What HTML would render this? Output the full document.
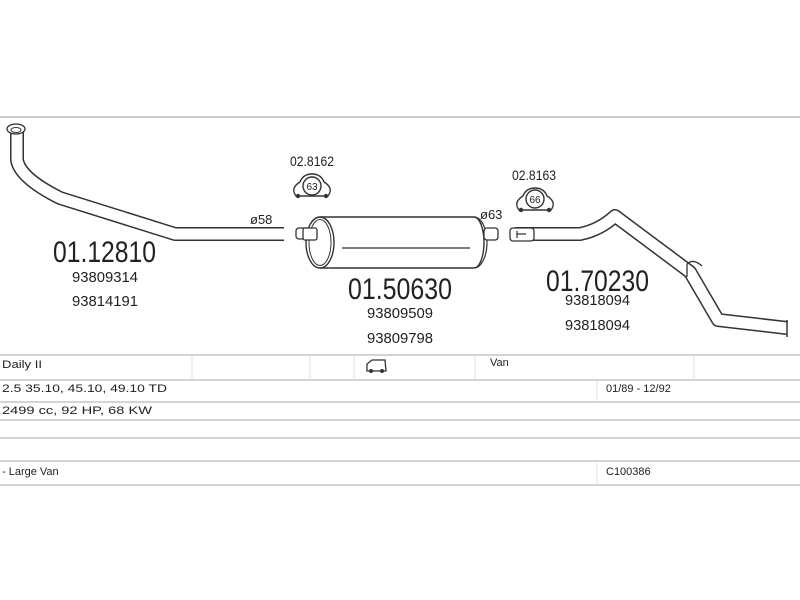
<!DOCTYPE html>
<html><head><style>
body{margin:0;background:#fff;}
svg{display:block}
text{font-family:"Liberation Sans",sans-serif;fill:#222}
</style></head><body>
<svg width="800" height="600" viewBox="0 0 800 600">
<line x1="0" y1="117" x2="800" y2="117" stroke="#ccc" stroke-width="2"/>
<!-- front pipe -->
<path d="M17,128 L17,160 Q20,178 60,198 L175,234 L284,234" fill="none" stroke="#333" stroke-width="14" stroke-linejoin="round"/>
<path d="M17,128 L17,160 Q20,178 60,198 L175,234 L284,234" fill="none" stroke="#fff" stroke-width="11" stroke-linejoin="round"/>
<ellipse cx="16" cy="129" rx="9" ry="5" fill="#fff" stroke="#333" stroke-width="1.3"/>
<ellipse cx="16" cy="130" rx="5" ry="2.5" fill="none" stroke="#333" stroke-width="1"/>
<!-- muffler -->
<rect x="296" y="228" width="16" height="11" rx="3" fill="#fff" stroke="#333" stroke-width="1.3"/>
<path d="M320,217 L474,217 A10,25.5 0 0 1 474,268 L320,268" fill="#fff" stroke="#333" stroke-width="1.4"/>
<path d="M474,217 A13,25.5 0 0 1 474,268" fill="none" stroke="#333" stroke-width="1.2"/>
<ellipse cx="320" cy="242.5" rx="14" ry="25.5" fill="#fff" stroke="#333" stroke-width="1.4"/>
<ellipse cx="320" cy="242.5" rx="11" ry="23" fill="none" stroke="#333" stroke-width="1"/>
<line x1="342" y1="248" x2="470" y2="248" stroke="#333" stroke-width="1.3"/>
<rect x="303" y="228" width="14" height="12" rx="2" fill="#fff" stroke="#333" stroke-width="1.3"/>
<rect x="484" y="228" width="14" height="12" rx="3" fill="#fff" stroke="#333" stroke-width="1.3"/>
<!-- rear pipe -->
<path d="M515,234 L580,234 Q600,230 615,216 L690,272 L718,320 L787,328" fill="none" stroke="#333" stroke-width="14" stroke-linejoin="round"/>
<path d="M515,234 L580,234 Q600,230 615,216 L690,272 L718,320 L787,328" fill="none" stroke="#fff" stroke-width="11" stroke-linejoin="round"/>
<rect x="510" y="228" width="24" height="13" rx="3" fill="#fff" stroke="#333" stroke-width="1.3"/>
<path d="M517,231 L517,238 M517,234 L526,234" stroke="#333" stroke-width="1.2"/>
<line x1="787" y1="320" x2="787" y2="337" stroke="#333" stroke-width="1.5"/>
<path d="M687,264 Q693,258 702,266 M687,264 L687,277" fill="none" stroke="#333" stroke-width="1.3"/>
<!-- clamps -->
<g fill="#fff" stroke="#333" stroke-width="1.4">
<path d="M296,196 Q290,188 300,182 Q303,174 312,174 Q321,174 324,182 Q334,188 328,196 Z"/>
<circle cx="312" cy="186" r="9"/>
<path d="M519,210 Q513,202 523,196 Q526,188 535,188 Q544,188 547,196 Q557,202 551,210 Z"/>
<circle cx="535" cy="199" r="9"/>
</g>
<g fill="#333"><circle cx="298" cy="196" r="2.2"/><circle cx="326" cy="196" r="2.2"/><circle cx="521" cy="210" r="2.2"/><circle cx="549" cy="210" r="2.2"/></g>
<text x="312" y="190" font-size="10" text-anchor="middle">63</text>
<text x="535" y="203" font-size="10" text-anchor="middle">66</text>
<text x="290" y="166" font-size="14" textLength="44" lengthAdjust="spacingAndGlyphs">02.8162</text>
<text x="512" y="180" font-size="14" textLength="44" lengthAdjust="spacingAndGlyphs">02.8163</text>
<text x="250" y="224" font-size="13">ø58</text>
<text x="480" y="219" font-size="13">ø63</text>
<!-- labels -->
<text x="53" y="262" font-size="30" textLength="103" lengthAdjust="spacingAndGlyphs">01.12810</text>
<text x="72" y="282" font-size="15" textLength="66" lengthAdjust="spacingAndGlyphs">93809314</text>
<text x="72" y="306" font-size="15" textLength="66" lengthAdjust="spacingAndGlyphs">93814191</text>
<text x="348" y="299" font-size="30" textLength="104" lengthAdjust="spacingAndGlyphs">01.50630</text>
<text x="367" y="318" font-size="15" textLength="66" lengthAdjust="spacingAndGlyphs">93809509</text>
<text x="367" y="343" font-size="15" textLength="66" lengthAdjust="spacingAndGlyphs">93809798</text>
<text x="546" y="291" font-size="30" textLength="103" lengthAdjust="spacingAndGlyphs">01.70230</text>
<text x="565" y="305" font-size="15" textLength="65" lengthAdjust="spacingAndGlyphs">93818094</text>
<text x="565" y="330" font-size="15" textLength="65" lengthAdjust="spacingAndGlyphs">93818094</text>
<!-- table -->
<g stroke="#d4d4d4" stroke-width="2">
<line x1="0" y1="355" x2="800" y2="355"/>
<line x1="0" y1="380" x2="800" y2="380"/>
<line x1="0" y1="402" x2="800" y2="402"/>
<line x1="0" y1="420" x2="800" y2="420"/>
<line x1="0" y1="438" x2="800" y2="438"/>
<line x1="0" y1="461" x2="800" y2="461"/>
<line x1="0" y1="485" x2="800" y2="485"/>
</g>
<g stroke="#e2e2e2" stroke-width="1">
<line x1="192" y1="355" x2="192" y2="380"/>
<line x1="310" y1="355" x2="310" y2="380"/>
<line x1="354" y1="355" x2="354" y2="380"/>
<line x1="475" y1="355" x2="475" y2="380"/>
<line x1="694" y1="355" x2="694" y2="380"/>
<line x1="597" y1="380" x2="597" y2="402"/>
<line x1="597" y1="461" x2="597" y2="485"/>
</g>
<g font-size="11">
<text x="2" y="368" textLength="40" lengthAdjust="spacingAndGlyphs">Daily II</text>
<text x="490" y="366">Van</text>
<text x="2" y="392" textLength="165" lengthAdjust="spacingAndGlyphs">2.5 35.10, 45.10, 49.10 TD</text>
<text x="606" y="392">01/89 - 12/92</text>
<text x="2" y="414" textLength="150" lengthAdjust="spacingAndGlyphs">2499 cc, 92 HP, 68 KW</text>
<text x="2" y="475">- Large Van</text>
<text x="606" y="475">C100386</text>
</g>
<path d="M367,371 L367,364 L372,360 L385,360 L386,371 Z" fill="none" stroke="#333" stroke-width="1.3"/>
<circle cx="371" cy="371" r="2" fill="#333"/><circle cx="382" cy="371" r="2" fill="#333"/>
</svg>
</body></html>
